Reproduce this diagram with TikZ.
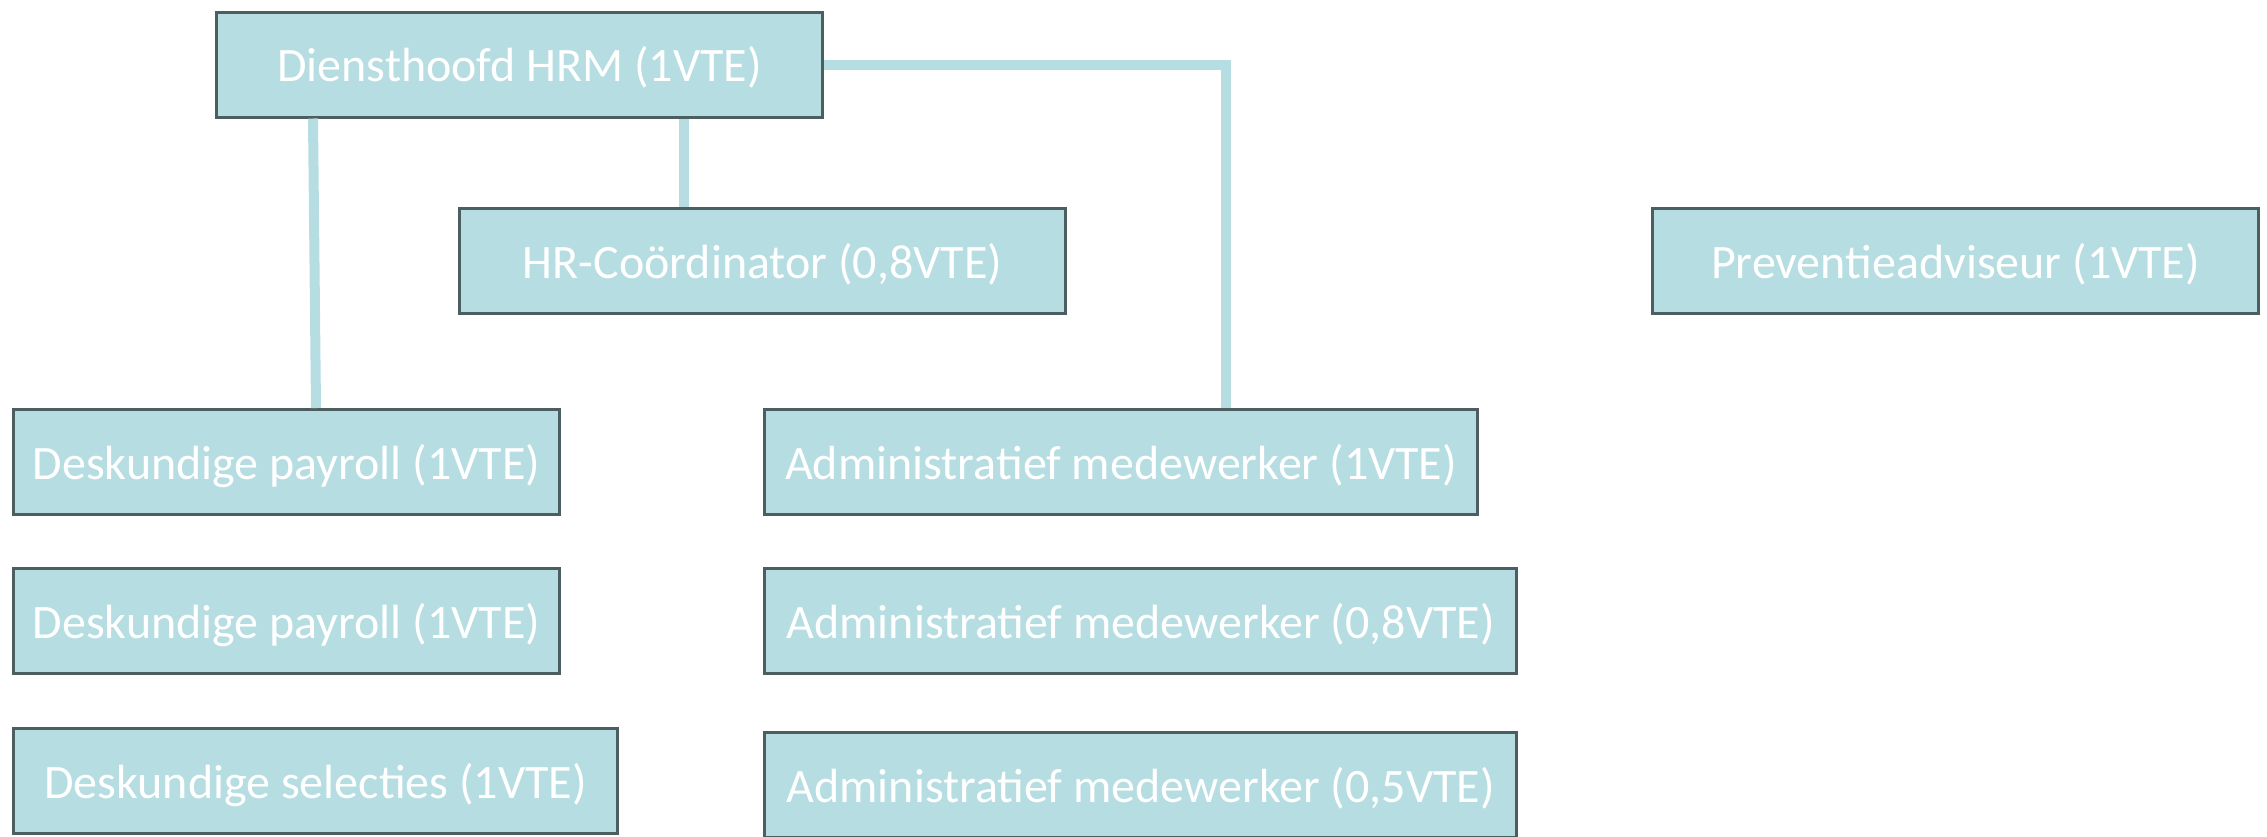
\documentclass[tikz,border=0pt]{standalone}
\usepackage{fontspec}
\setmainfont{Carlito}
\definecolor{boxfill}{HTML}{B6DDE1}
\definecolor{boxedge}{HTML}{4D5E60}
\definecolor{linkline}{HTML}{B6DDE1}
\tikzset{
  orgbox/.style={draw=boxedge, line width=3pt, fill=boxfill, rectangle,
    minimum height=105pt, inner sep=0pt, text=white,
    text height=40pt, text depth=6pt,
    font=\fontsize{48}{54}\selectfont},
  link/.style={draw=linkline, line width=10pt, line cap=butt}
}
\begin{document}
\begin{tikzpicture}[x=1pt, y=-1pt]
\useasboundingbox (0,0) rectangle (2267,836);
% top level
\node[orgbox, minimum width=606pt] (dh) at (519.5,64.5) {Diensthoofd HRM (1VTE)};
% second level
\node[orgbox, minimum width=606pt] (hrc) at (762.5,261) {HR-Coördinator (0,8VTE)};
\node[orgbox, minimum width=606pt] (prev) at (1955.5,261) {Preventieadviseur (1VTE)};
% left column
\node[orgbox, minimum width=546pt] (dp1) at (286.5,462) {Deskundige payroll (1VTE)};
\node[orgbox, minimum width=546pt] (dp2) at (286.5,621) {Deskundige payroll (1VTE)};
\node[orgbox, minimum width=604pt] (dsel) at (315.5,781) {Deskundige selecties (1VTE)};
% right column
\node[orgbox, minimum width=713pt] (adm1) at (1121,462) {Administratief medewerker (1VTE)};
\node[orgbox, minimum width=752pt] (adm2) at (1140.5,621) {Administratief medewerker (0,8VTE)};
\node[orgbox, minimum width=752pt] (adm3) at (1140.5,785) {Administratief medewerker (0,5VTE)};
% connectors
\draw[link] ([xshift=98pt]dh.south west) -- ([xshift=304pt]dp1.north west);
\draw[link] ([xshift=469pt]dh.south west) -- ([xshift=226pt]hrc.north west);
\draw[link] (dh.east) -| ([xshift=463pt]adm1.north west);
\end{tikzpicture}
\end{document}
